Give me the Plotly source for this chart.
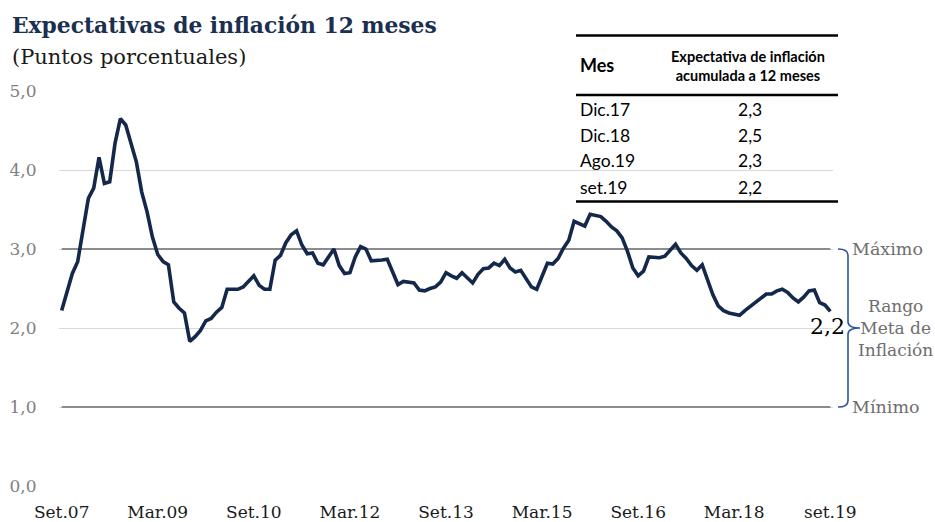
import plotly.graph_objects as go

# ---------------- data ----------------
month_abbr = ["Ene", "Feb", "Mar", "Abr", "May", "Jun", "Jul", "Ago", "Set", "Oct", "Nov", "Dic"]
start_year, start_month, n_months = 2007, 9, 145
categories = []
for k in range(n_months):
    m = (start_month - 1 + k) % 12
    y = start_year + (start_month - 1 + k) // 12
    categories.append(f"{month_abbr[m]}.{y % 100:02d}")

expectativas = [
    2.22, 2.44, 2.69, 2.84, 3.24, 3.64, 3.77, 4.16, 3.83, 3.85,
    4.34, 4.65, 4.57, 4.33, 4.10, 3.72, 3.47, 3.15, 2.93, 2.84,
    2.80, 2.33, 2.25, 2.19, 1.83, 1.89, 1.97, 2.09, 2.12, 2.20,
    2.26, 2.49, 2.49, 2.49, 2.52, 2.59, 2.66, 2.54, 2.49, 2.49,
    2.86, 2.92, 3.08, 3.18, 3.23, 3.05, 2.94, 2.95, 2.82, 2.80,
    2.90, 3.00, 2.79, 2.69, 2.70, 2.90, 3.03, 3.00, 2.85, 2.85,
    2.86, 2.87, 2.70, 2.55, 2.59, 2.58, 2.57, 2.48, 2.47, 2.50,
    2.52, 2.58, 2.70, 2.66, 2.63, 2.70, 2.64, 2.57, 2.68, 2.75,
    2.76, 2.82, 2.79, 2.87, 2.76, 2.71, 2.73, 2.63, 2.52, 2.49,
    2.66, 2.82, 2.81, 2.88, 3.01, 3.11, 3.35, 3.32, 3.29, 3.44,
    3.43, 3.41, 3.35, 3.28, 3.23, 3.14, 2.97, 2.76, 2.66, 2.72,
    2.90, 2.89, 2.89, 2.91, 2.99, 3.06, 2.95, 2.88, 2.79, 2.73,
    2.80, 2.62, 2.42, 2.28, 2.22, 2.19, 2.17, 2.16, 2.22, 2.27,
    2.33, 2.38, 2.43, 2.43, 2.47, 2.49, 2.45, 2.38, 2.33, 2.39,
    2.47, 2.48, 2.32, 2.29, 2.21,
]

meta_maximo = 3.0
meta_minimo = 1.0
meta_centro = 2.0

tick_vals = ["Set.07", "Mar.09", "Set.10", "Mar.12", "Set.13", "Mar.15", "Set.16", "Mar.18", "Set.19"]
tick_text = ["Set.07", "Mar.09", "Set.10", "Mar.12", "Set.13", "Mar.15", "Set.16", "Mar.18", "set.19"]

y_ticks = [0, 1, 2, 3, 4, 5]

table_header_mes = "Mes"
table_header_val = "Expectativa de inflación<br>acumulada a 12 meses"
table_meses = ["Dic.17", "Dic.18", "Ago.19", "set.19"]
table_valores = ["2,3", "2,5", "2,3", "2,2"]

title_text = "Expectativas de inflación 12 meses"
subtitle_text = "(Puntos porcentuales)"

# ---------------- layout helpers ----------------
W, H = 935, 522
ML, MR, MT, MB = 59, 102, 91, 36
PW = W - ML - MR
PH = H - MT - MB


def xp(px):
    return (px - ML) / PW


def yp(py):
    return (H - MB - py) / PH


SERIF = "DejaVu Serif"
SANS = "Lato"
NAVY = "#14284b"
GRAY_TXT = "#6e6e6e"

fig = go.Figure()

# target range lines (maximo / minimo)
for val in (meta_maximo, meta_minimo):
    fig.add_trace(go.Scatter(
        x=categories, y=[val] * len(categories), mode="lines",
        line=dict(color="#8c8c8c", width=2), hoverinfo="skip", showlegend=False,
    ))

fig.add_trace(go.Scatter(
    x=categories, y=expectativas, mode="lines",
    line=dict(color=NAVY, width=3.6), showlegend=False,
))

shapes = []
# white box of table (hides gridlines)
shapes.append(dict(type="rect", xref="paper", yref="paper",
                   x0=xp(575), x1=xp(839), y0=yp(203), y1=yp(34),
                   fillcolor="white", line=dict(width=0), layer="between"))
# table rules
for py in (35.5, 95, 201.5):
    shapes.append(dict(type="line", xref="paper", yref="paper",
                       x0=xp(576), x1=xp(838), y0=yp(py), y1=yp(py),
                       line=dict(color="black", width=2.6), layer="above"))

# brace for target range
bx0, bx1, btip = xp(838), xp(848), xp(860)
brace = (f"M {bx0},{meta_maximo} Q {bx1},{meta_maximo} {bx1},{meta_maximo - 0.08} "
         f"L {bx1},{meta_centro + 0.08} Q {bx1},{meta_centro} {btip},{meta_centro} "
         f"Q {bx1},{meta_centro} {bx1},{meta_centro - 0.08} "
         f"L {bx1},{meta_minimo + 0.08} Q {bx1},{meta_minimo} {bx0},{meta_minimo}")
shapes.append(dict(type="path", xref="paper", yref="y", path=brace,
                   line=dict(color="#2f5597", width=1.6), layer="above"))

annotations = []
annotations.append(dict(text=f"<b>{title_text}</b>", xref="paper", yref="paper",
                        x=xp(10), y=yp(25), xanchor="left", yanchor="middle",
                        showarrow=False, font=dict(family=SERIF, size=21.8, color="#1b2f50")))
annotations.append(dict(text=subtitle_text, xref="paper", yref="paper",
                        x=xp(10), y=yp(57), xanchor="left", yanchor="middle",
                        showarrow=False, font=dict(family=SERIF, size=21, color="#1a1a1a")))

# table text
annotations.append(dict(text=f"<b>{table_header_mes}</b>", xref="paper", yref="paper",
                        x=xp(578), y=yp(65), xanchor="left", yanchor="middle",
                        showarrow=False, font=dict(family=SANS, size=18, color="black")))
annotations.append(dict(text=f"<b>{table_header_val}</b>", xref="paper", yref="paper",
                        x=xp(748), y=yp(66), xanchor="center", yanchor="middle",
                        showarrow=False, font=dict(family=SANS, size=14.5, color="black")))
row_y = [109, 135, 161, 187]
for mes, val, py in zip(table_meses, table_valores, row_y):
    annotations.append(dict(text=mes, xref="paper", yref="paper",
                            x=xp(578), y=yp(py), xanchor="left", yanchor="middle",
                            showarrow=False, font=dict(family=SANS, size=17.5, color="black")))
    annotations.append(dict(text=val, xref="paper", yref="paper",
                            x=xp(750), y=yp(py), xanchor="center", yanchor="middle",
                            showarrow=False, font=dict(family=SANS, size=17.5, color="black")))

# right side labels
annotations.append(dict(text="Máximo", xref="paper", yref="y",
                        x=xp(850), y=meta_maximo, xanchor="left", yanchor="middle",
                        showarrow=False, font=dict(family=SERIF, size=17.5, color=GRAY_TXT)))
annotations.append(dict(text="Mínimo", xref="paper", yref="y",
                        x=xp(850), y=meta_minimo, xanchor="left", yanchor="middle",
                        showarrow=False, font=dict(family=SERIF, size=17.5, color=GRAY_TXT)))
annotations.append(dict(text="Rango<br>Meta de<br>Inflación", xref="paper", yref="y",
                        x=xp(896), y=meta_centro, xanchor="center", yanchor="middle",
                        showarrow=False, font=dict(family=SERIF, size=17, color=GRAY_TXT)))
# last value label
annotations.append(dict(text=f"{expectativas[-1]:.1f}".replace(".", ","), xref="x", yref="y",
                        x=categories[-1], y=expectativas[-1], xanchor="center", yanchor="middle",
                        xshift=-3, yshift=-15, showarrow=False,
                        font=dict(family=SERIF, size=22, color="black")))

fig.update_layout(
    width=W, height=H, autosize=False,
    margin=dict(l=ML, r=MR, t=MT, b=MB, pad=0, autoexpand=False),
    paper_bgcolor="white", plot_bgcolor="white",
    separators=",.",
    shapes=shapes, annotations=annotations,
    showlegend=False,
    xaxis=dict(type="category", categoryorder="array", categoryarray=categories,
               range=[-0.5, len(categories) - 0.5], autorange=False,
               tickmode="array", tickvals=tick_vals, ticktext=tick_text,
               showgrid=False, zeroline=False, showline=False, automargin=False,
               ticks="outside", ticklen=11, tickcolor="rgba(0,0,0,0)",
               tickfont=dict(family=SERIF, size=17, color="#1a1a1a")),
    yaxis=dict(range=[0, 5], tickmode="array", tickvals=y_ticks, tickformat=".1f",
               showgrid=True, gridcolor="#d9d9d9", gridwidth=1.2,
               zeroline=False, showline=False, automargin=False,
               ticks="outside", ticklen=18, tickcolor="rgba(0,0,0,0)",
               tickfont=dict(family=SERIF, size=17, color="#808080")),
)

fig.write_html(
    "out.html",
    config={"responsive": False, "displayModeBar": False},
    post_script="document.body.style.margin='0px';document.body.style.padding='0px';",
)
